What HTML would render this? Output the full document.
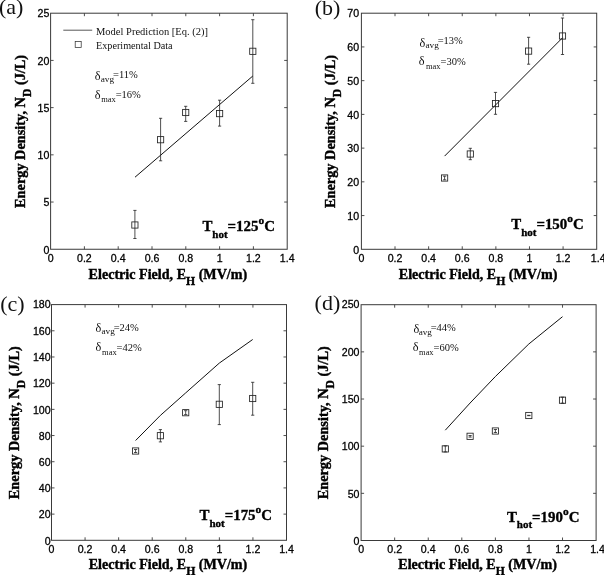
<!DOCTYPE html>
<html lang="en">
<head>
<meta charset="utf-8">
<title>Energy density vs electric field</title>
<style>
html,body{margin:0;padding:0;background:#fff}
svg{display:block}
</style>
</head>
<body>
<svg width="604" height="575" viewBox="0 0 604 575">
<rect width="604" height="575" fill="#fff"/>
<g id="panel-a">
<rect x="50.6" y="13.2" width="236.6" height="236.05" fill="none" stroke="#3a3a3a" stroke-width="1"/>
<path d="M84.4 249.25v-3.0M84.4 13.2v3.0M118.2 249.25v-3.0M118.2 13.2v3.0M152 249.25v-3.0M152 13.2v3.0M185.8 249.25v-3.0M185.8 13.2v3.0M219.6 249.25v-3.0M219.6 13.2v3.0M253.4 249.25v-3.0M253.4 13.2v3.0M50.6 202.04h3.0M287.2 202.04h-3.0M50.6 154.83h3.0M287.2 154.83h-3.0M50.6 107.62h3.0M287.2 107.62h-3.0M50.6 60.41h3.0M287.2 60.41h-3.0" stroke="#3a3a3a" stroke-width="0.9" fill="none"/>
<g font-family='"Liberation Sans", sans-serif' font-size="10.6" fill="#000" stroke="#000" stroke-width="0.28">
<text x="50.6" y="261.95" text-anchor="middle">0</text>
<text x="84.4" y="261.95" text-anchor="middle">0.2</text>
<text x="118.2" y="261.95" text-anchor="middle">0.4</text>
<text x="152" y="261.95" text-anchor="middle">0.6</text>
<text x="185.8" y="261.95" text-anchor="middle">0.8</text>
<text x="219.6" y="261.95" text-anchor="middle">1</text>
<text x="253.4" y="261.95" text-anchor="middle">1.2</text>
<text x="287.2" y="261.95" text-anchor="middle">1.4</text>
<text x="49.3" y="253.55" text-anchor="end">0</text>
<text x="49.3" y="206.34" text-anchor="end">5</text>
<text x="49.3" y="159.13" text-anchor="end">10</text>
<text x="49.3" y="111.92" text-anchor="end">15</text>
<text x="49.3" y="64.71" text-anchor="end">20</text>
<text x="49.3" y="16.8" text-anchor="end">25</text>
</g>
<text x="167.9" y="278.55" text-anchor="middle" font-family='"Liberation Serif", serif' font-weight="bold" font-size="14.1" fill="#000" stroke="#000" stroke-width="0.4">Electric Field, E<tspan dy="6.3" font-size="11.7">H</tspan><tspan dy="-6.3"> (MV/m)</tspan></text>
<text transform="translate(24.9 131.42) rotate(-90)" text-anchor="middle" font-family='"Liberation Serif", serif' font-weight="bold" font-size="14.3" fill="#000" stroke="#000" stroke-width="0.4">Energy Density, N<tspan dy="6.3" font-size="11.7">D</tspan><tspan dy="-6.3"> (J/L)</tspan></text>
<text x="-1.0" y="14.4" font-family='"Liberation Serif", serif' font-size="22" fill="#111">(a)</text>
<g font-family='"Liberation Serif", serif' font-size="10.5" fill="#111">
<text x="94.85" y="79.6" font-size="11.5" textLength="5.8" lengthAdjust="spacingAndGlyphs">δ</text>
<text x="100.7" y="81.7" font-size="8.7" textLength="13.4" lengthAdjust="spacingAndGlyphs">avg</text>
<text x="113" y="77.9">=11%</text>
<text x="94.7" y="98.6" font-size="11.5" textLength="5.8" lengthAdjust="spacingAndGlyphs">δ</text>
<text x="101.2" y="101.65" font-size="8.7" textLength="14.600000000000001" lengthAdjust="spacingAndGlyphs">max</text>
<text x="115.7" y="97.9">=16%</text>
</g>
<text x="202.4" y="231.3" font-family='"Liberation Serif", serif' font-weight="bold" font-size="14.9" fill="#000" stroke="#000" stroke-width="0.35">T<tspan dy="6.6" font-size="11">hot</tspan><tspan dy="-6.6">=125</tspan><tspan dy="-7" font-size="11.4">o</tspan><tspan dy="7">C</tspan></text>
<polyline points="135,177.2 252.8,76" fill="none" stroke="#111" stroke-width="1"/>
<path d="M134.9 210.4V238.5M133.3 210.4h3.2M133.3 238.5h3.2M160.6 118.3V160.8M159 118.3h3.2M159 160.8h3.2M185.7 106.3V121.4M184.1 106.3h3.2M184.1 121.4h3.2M219.6 100.2V126.1M218 100.2h3.2M218 126.1h3.2M252.8 19.7V83.3M251.2 19.7h3.2M251.2 83.3h3.2" stroke="#222" stroke-width="0.8" fill="none"/>
<g fill="none" stroke="#222" stroke-width="0.85"><rect x="131.8" y="221.9" width="6.2" height="6.2"/><rect x="157.5" y="136.6" width="6.2" height="6.2"/><rect x="182.6" y="109.4" width="6.2" height="6.2"/><rect x="216.5" y="110.5" width="6.2" height="6.2"/><rect x="249.7" y="48.2" width="6.2" height="6.2"/></g>
</g>
<g id="panel-b">
<rect x="361.4" y="13.2" width="235.3" height="236.1" fill="none" stroke="#3a3a3a" stroke-width="1"/>
<path d="M395.01 249.3v-3.0M395.01 13.2v3.0M428.63 249.3v-3.0M428.63 13.2v3.0M462.24 249.3v-3.0M462.24 13.2v3.0M495.86 249.3v-3.0M495.86 13.2v3.0M529.47 249.3v-3.0M529.47 13.2v3.0M563.09 249.3v-3.0M563.09 13.2v3.0M361.4 215.57h3.0M596.7 215.57h-3.0M361.4 181.84h3.0M596.7 181.84h-3.0M361.4 148.11h3.0M596.7 148.11h-3.0M361.4 114.39h3.0M596.7 114.39h-3.0M361.4 80.66h3.0M596.7 80.66h-3.0M361.4 46.93h3.0M596.7 46.93h-3.0" stroke="#3a3a3a" stroke-width="0.9" fill="none"/>
<g font-family='"Liberation Sans", sans-serif' font-size="10.6" fill="#000" stroke="#000" stroke-width="0.28">
<text x="361.4" y="262" text-anchor="middle">0</text>
<text x="395.01" y="262" text-anchor="middle">0.2</text>
<text x="428.63" y="262" text-anchor="middle">0.4</text>
<text x="462.24" y="262" text-anchor="middle">0.6</text>
<text x="495.86" y="262" text-anchor="middle">0.8</text>
<text x="529.47" y="262" text-anchor="middle">1</text>
<text x="563.09" y="262" text-anchor="middle">1.2</text>
<text x="598.2" y="262" text-anchor="middle">1.4</text>
<text x="359.1" y="253.6" text-anchor="end">0</text>
<text x="359.1" y="219.87" text-anchor="end">10</text>
<text x="359.1" y="186.14" text-anchor="end">20</text>
<text x="359.1" y="152.41" text-anchor="end">30</text>
<text x="359.1" y="118.69" text-anchor="end">40</text>
<text x="359.1" y="84.96" text-anchor="end">50</text>
<text x="359.1" y="51.23" text-anchor="end">60</text>
<text x="359.1" y="16.8" text-anchor="end">70</text>
</g>
<text x="478.05" y="278.6" text-anchor="middle" font-family='"Liberation Serif", serif' font-weight="bold" font-size="14.1" fill="#000" stroke="#000" stroke-width="0.4">Electric Field, E<tspan dy="6.3" font-size="11.7">H</tspan><tspan dy="-6.3"> (MV/m)</tspan></text>
<text transform="translate(335 131.45) rotate(-90)" text-anchor="middle" font-family='"Liberation Serif", serif' font-weight="bold" font-size="14.3" fill="#000" stroke="#000" stroke-width="0.4">Energy Density, N<tspan dy="6.3" font-size="11.7">D</tspan><tspan dy="-6.3"> (J/L)</tspan></text>
<text x="314.8" y="14.9" font-family='"Liberation Serif", serif' font-size="22" fill="#111">(b)</text>
<g font-family='"Liberation Serif", serif' font-size="10.5" fill="#111">
<text x="419.6" y="46.8" font-size="11.5" textLength="5.8" lengthAdjust="spacingAndGlyphs">δ</text>
<text x="425.5" y="48.4" font-size="8.7" textLength="13.4" lengthAdjust="spacingAndGlyphs">avg</text>
<text x="437.7" y="44.4">=13%</text>
<text x="418.85" y="65.3" font-size="11.5" textLength="5.8" lengthAdjust="spacingAndGlyphs">δ</text>
<text x="426" y="68.6" font-size="8.7" textLength="14.5" lengthAdjust="spacingAndGlyphs">max</text>
<text x="440.5" y="64.7">=30%</text>
</g>
<text x="511.2" y="228.9" font-family='"Liberation Serif", serif' font-weight="bold" font-size="14.9" fill="#000" stroke="#000" stroke-width="0.35">T<tspan dy="7" font-size="11">hot</tspan><tspan dy="-7">=150</tspan><tspan dy="-6.9" font-size="11.4">o</tspan><tspan dy="6.9">C</tspan></text>
<polyline points="444.6,156.1 562.5,37.8" fill="none" stroke="#111" stroke-width="1"/>
<path d="M444.6 176.2V179.8M443 176.2h3.2M443 179.8h3.2M470.3 148.3V159.7M468.7 148.3h3.2M468.7 159.7h3.2M495.5 92.4V114.3M493.9 92.4h3.2M493.9 114.3h3.2M528.6 37.3V64.2M527 37.3h3.2M527 64.2h3.2M562.5 18V54.5M560.9 18h3.2M560.9 54.5h3.2" stroke="#222" stroke-width="0.8" fill="none"/>
<g fill="none" stroke="#222" stroke-width="0.85"><rect x="441.5" y="174.9" width="6.2" height="6.2"/><rect x="467.2" y="150.9" width="6.2" height="6.2"/><rect x="492.4" y="100.5" width="6.2" height="6.2"/><rect x="525.5" y="48" width="6.2" height="6.2"/><rect x="559.4" y="32.9" width="6.2" height="6.2"/></g>
</g>
<g id="panel-c">
<rect x="51.5" y="304.6" width="235" height="235.7" fill="none" stroke="#3a3a3a" stroke-width="1"/>
<path d="M85.07 540.3v-3.0M85.07 304.6v3.0M118.64 540.3v-3.0M118.64 304.6v3.0M152.21 540.3v-3.0M152.21 304.6v3.0M185.79 540.3v-3.0M185.79 304.6v3.0M219.36 540.3v-3.0M219.36 304.6v3.0M252.93 540.3v-3.0M252.93 304.6v3.0M51.5 514.11h3.0M286.5 514.11h-3.0M51.5 487.92h3.0M286.5 487.92h-3.0M51.5 461.73h3.0M286.5 461.73h-3.0M51.5 435.54h3.0M286.5 435.54h-3.0M51.5 409.36h3.0M286.5 409.36h-3.0M51.5 383.17h3.0M286.5 383.17h-3.0M51.5 356.98h3.0M286.5 356.98h-3.0M51.5 330.79h3.0M286.5 330.79h-3.0" stroke="#3a3a3a" stroke-width="0.9" fill="none"/>
<g font-family='"Liberation Sans", sans-serif' font-size="10.6" fill="#000" stroke="#000" stroke-width="0.28">
<text x="51.5" y="553" text-anchor="middle">0</text>
<text x="85.07" y="553" text-anchor="middle">0.2</text>
<text x="118.64" y="553" text-anchor="middle">0.4</text>
<text x="152.21" y="553" text-anchor="middle">0.6</text>
<text x="185.79" y="553" text-anchor="middle">0.8</text>
<text x="219.36" y="553" text-anchor="middle">1</text>
<text x="252.93" y="553" text-anchor="middle">1.2</text>
<text x="286.5" y="553" text-anchor="middle">1.4</text>
<text x="50.6" y="544.6" text-anchor="end">0</text>
<text x="50.6" y="518.41" text-anchor="end">20</text>
<text x="50.6" y="492.22" text-anchor="end">40</text>
<text x="50.6" y="466.03" text-anchor="end">60</text>
<text x="50.6" y="439.84" text-anchor="end">80</text>
<text x="50.6" y="413.66" text-anchor="end">100</text>
<text x="50.6" y="387.47" text-anchor="end">120</text>
<text x="50.6" y="361.28" text-anchor="end">140</text>
<text x="50.6" y="335.09" text-anchor="end">160</text>
<text x="50.6" y="308.2" text-anchor="end">180</text>
</g>
<text x="168" y="568.5" text-anchor="middle" font-family='"Liberation Serif", serif' font-weight="bold" font-size="14.1" fill="#000" stroke="#000" stroke-width="0.4">Electric Field, E<tspan dy="6.3" font-size="11.7">H</tspan><tspan dy="-6.3"> (MV/m)</tspan></text>
<text transform="translate(18.9 422.65) rotate(-90)" text-anchor="middle" font-family='"Liberation Serif", serif' font-weight="bold" font-size="14.3" fill="#000" stroke="#000" stroke-width="0.4">Energy Density, N<tspan dy="6.3" font-size="11.7">D</tspan><tspan dy="-6.3"> (J/L)</tspan></text>
<text x="0.2" y="310.9" font-family='"Liberation Serif", serif' font-size="22" fill="#111">(c)</text>
<g font-family='"Liberation Serif", serif' font-size="10.5" fill="#111">
<text x="95.6" y="332.3" font-size="11.5" textLength="5.8" lengthAdjust="spacingAndGlyphs">δ</text>
<text x="101.5" y="334.1" font-size="8.7" textLength="13.4" lengthAdjust="spacingAndGlyphs">avg</text>
<text x="113.7" y="330.6">=24%</text>
<text x="95.6" y="350.8" font-size="11.5" textLength="5.8" lengthAdjust="spacingAndGlyphs">δ</text>
<text x="102" y="354.6" font-size="8.7" textLength="14.700000000000001" lengthAdjust="spacingAndGlyphs">max</text>
<text x="116.5" y="350.6">=42%</text>
</g>
<text x="199.5" y="520.4" font-family='"Liberation Serif", serif' font-weight="bold" font-size="14.9" fill="#000" stroke="#000" stroke-width="0.35">T<tspan dy="6.3" font-size="11">hot</tspan><tspan dy="-6.3">=175</tspan><tspan dy="-7.4" font-size="11.4">o</tspan><tspan dy="7.4">C</tspan></text>
<polyline points="135.6,440.5 160.4,415.4 185.7,392.9 219.3,363.1 252.7,339.5" fill="none" stroke="#111" stroke-width="1"/>
<path d="M135.6 449.5V452.5M134 449.5h3.2M134 452.5h3.2M160.4 429.6V441.9M158.8 429.6h3.2M158.8 441.9h3.2M185.7 410.7V414.6M184.1 410.7h3.2M184.1 414.6h3.2M219.3 384.6V424.6M217.7 384.6h3.2M217.7 424.6h3.2M252.7 382.3V415.2M251.1 382.3h3.2M251.1 415.2h3.2" stroke="#222" stroke-width="0.8" fill="none"/>
<g fill="none" stroke="#222" stroke-width="0.85"><rect x="132.5" y="447.9" width="6.2" height="6.2"/><rect x="157.3" y="432.6" width="6.2" height="6.2"/><rect x="182.6" y="409.6" width="6.2" height="6.2"/><rect x="216.2" y="401.2" width="6.2" height="6.2"/><rect x="249.6" y="395.4" width="6.2" height="6.2"/></g>
</g>
<g id="panel-d">
<rect x="361.1" y="304.7" width="235" height="235.8" fill="none" stroke="#3a3a3a" stroke-width="1"/>
<path d="M394.67 540.5v-3.0M394.67 304.7v3.0M428.24 540.5v-3.0M428.24 304.7v3.0M461.81 540.5v-3.0M461.81 304.7v3.0M495.39 540.5v-3.0M495.39 304.7v3.0M528.96 540.5v-3.0M528.96 304.7v3.0M562.53 540.5v-3.0M562.53 304.7v3.0M361.1 493.34h3.0M596.1 493.34h-3.0M361.1 446.18h3.0M596.1 446.18h-3.0M361.1 399.02h3.0M596.1 399.02h-3.0M361.1 351.86h3.0M596.1 351.86h-3.0" stroke="#3a3a3a" stroke-width="0.9" fill="none"/>
<g font-family='"Liberation Sans", sans-serif' font-size="10.6" fill="#000" stroke="#000" stroke-width="0.28">
<text x="361.1" y="553.2" text-anchor="middle">0</text>
<text x="394.67" y="553.2" text-anchor="middle">0.2</text>
<text x="428.24" y="553.2" text-anchor="middle">0.4</text>
<text x="461.81" y="553.2" text-anchor="middle">0.6</text>
<text x="495.39" y="553.2" text-anchor="middle">0.8</text>
<text x="528.96" y="553.2" text-anchor="middle">1</text>
<text x="562.53" y="553.2" text-anchor="middle">1.2</text>
<text x="597.6" y="553.2" text-anchor="middle">1.4</text>
<text x="359.5" y="544.8" text-anchor="end">0</text>
<text x="359.5" y="497.64" text-anchor="end">50</text>
<text x="359.5" y="450.48" text-anchor="end">100</text>
<text x="359.5" y="403.32" text-anchor="end">150</text>
<text x="359.5" y="356.16" text-anchor="end">200</text>
<text x="359.5" y="308.3" text-anchor="end">250</text>
</g>
<text x="477.6" y="568.7" text-anchor="middle" font-family='"Liberation Serif", serif' font-weight="bold" font-size="14.1" fill="#000" stroke="#000" stroke-width="0.4">Electric Field, E<tspan dy="6.3" font-size="11.7">H</tspan><tspan dy="-6.3"> (MV/m)</tspan></text>
<text transform="translate(328.1 422.8) rotate(-90)" text-anchor="middle" font-family='"Liberation Serif", serif' font-weight="bold" font-size="14.3" fill="#000" stroke="#000" stroke-width="0.4">Energy Density, N<tspan dy="6.3" font-size="11.7">D</tspan><tspan dy="-6.3"> (J/L)</tspan></text>
<text x="314.6" y="309.5" font-family='"Liberation Serif", serif' font-size="22" fill="#111">(d)</text>
<g font-family='"Liberation Serif", serif' font-size="10.5" fill="#111">
<text x="413.4" y="332.8" font-size="11.5" textLength="5.8" lengthAdjust="spacingAndGlyphs">δ</text>
<text x="418.7" y="334.7" font-size="8.7" textLength="13.200000000000001" lengthAdjust="spacingAndGlyphs">avg</text>
<text x="430.7" y="330.9">=44%</text>
<text x="412.8" y="351.3" font-size="11.5" textLength="5.8" lengthAdjust="spacingAndGlyphs">δ</text>
<text x="419.1" y="355.4" font-size="8.7" textLength="14.5" lengthAdjust="spacingAndGlyphs">max</text>
<text x="433.5" y="351.1">=60%</text>
</g>
<text x="506.9" y="521.5" font-family='"Liberation Serif", serif' font-weight="bold" font-size="14.9" fill="#000" stroke="#000" stroke-width="0.35">T<tspan dy="6.9" font-size="11">hot</tspan><tspan dy="-6.9">=190</tspan><tspan dy="-6.5" font-size="11.4">o</tspan><tspan dy="6.5">C</tspan></text>
<polyline points="445.3,430.2 470.1,403 495.4,376.5 528.8,344 562.5,316.7" fill="none" stroke="#111" stroke-width="1"/>
<path d="M445.3 445.9V451.9M443.7 445.9h3.2M443.7 451.9h3.2M470.1 435.5V437.1M468.5 435.5h3.2M468.5 437.1h3.2M495.4 429.5V432.5M493.8 429.5h3.2M493.8 432.5h3.2M528.8 415.3V415.7M527.2 415.3h3.2M527.2 415.7h3.2M562.5 397.2V403.2M560.9 397.2h3.2M560.9 403.2h3.2" stroke="#222" stroke-width="0.8" fill="none"/>
<g fill="none" stroke="#222" stroke-width="0.85"><rect x="442.2" y="445.8" width="6.2" height="6.2"/><rect x="467" y="433.2" width="6.2" height="6.2"/><rect x="492.3" y="427.9" width="6.2" height="6.2"/><rect x="525.7" y="412.4" width="6.2" height="6.2"/><rect x="559.4" y="397.1" width="6.2" height="6.2"/></g>
</g>
<g font-family='"Liberation Serif", serif' font-size="10.5" fill="#111">
<path d="M63.3 30.2H92.2" stroke="#444" stroke-width="0.9" fill="none"/>
<rect x="75.2" y="41.6" width="6" height="6" fill="none" stroke="#333" stroke-width="0.75"/>
<text x="96" y="35.1">Model Prediction [Eq. (2)]</text>
<text x="96" y="48.6" textLength="76.6" lengthAdjust="spacingAndGlyphs">Experimental Data</text>
</g>
</svg>
</body>
</html>
